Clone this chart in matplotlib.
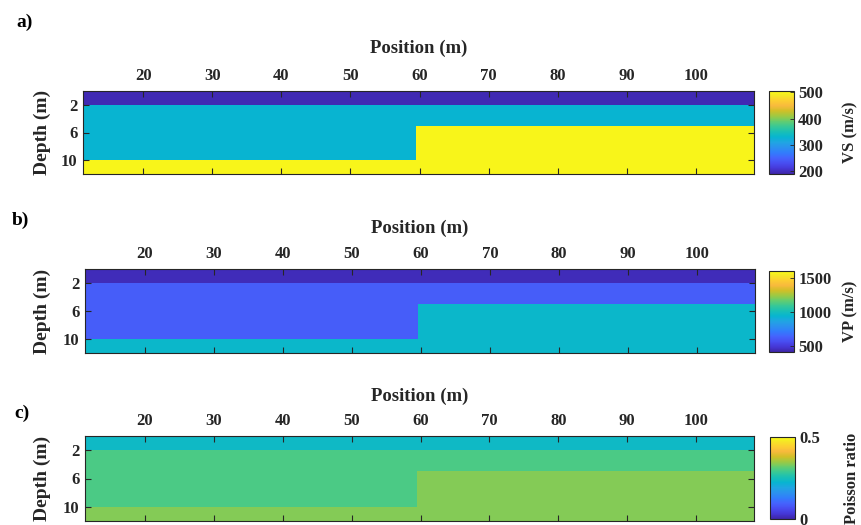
import numpy as np
import matplotlib
matplotlib.use('Agg')
import matplotlib.pyplot as plt
from matplotlib.colors import LinearSegmentedColormap
from matplotlib.ticker import FuncFormatter

# model geometry (m)
x_left = 11.3
x_split = 59.5
x_right = 108.4
depth_left = [0, 2, 10, 12]    # layer interfaces left of the step
depth_right = [0, 2, 5, 12]    # layer interfaces right of the step

# layer values (top, middle, bottom)
vs_layers = [195, 330, 500]
vp_layers = [440, 620, 960]
nu_layers = [0.235, 0.30, 0.335]

vs_clim = (190, 505)
vp_clim = (410, 1610)
nu_clim = (0, 0.5)

pos_ticks = [20, 30, 40, 50, 60, 70, 80, 90, 100]
depth_ticks = [2, 6, 10]
vs_cticks = [200, 300, 400, 500]
vp_cticks = [500, 1000, 1500]
nu_cticks = [0, 0.5]

# matlab parula, every 4th entry of the 64 colour table
parula_pts = [
    (0.2422, 0.1504, 0.6603), (0.2706, 0.2147, 0.8364), (0.2813, 0.3006, 0.9414),
    (0.2699, 0.3892, 0.9906), (0.1963, 0.4847, 0.9892), (0.1687, 0.5703, 0.9359),
    (0.1248, 0.6459, 0.8883), (0.0297, 0.7082, 0.8163), (0.0964, 0.7500, 0.7120),
    (0.2161, 0.7843, 0.5923), (0.3909, 0.8029, 0.4354), (0.6174, 0.7876, 0.2612),
    (0.8203, 0.7498, 0.1535), (0.9728, 0.7298, 0.2394), (0.9892, 0.8136, 0.1885),
    (0.9597, 0.9135, 0.1423), (0.9769, 0.9839, 0.0805)]
stops = [i * 4 / 63 for i in range(16)] + [1.0]
parula = LinearSegmentedColormap.from_list('parula', list(zip(stops, parula_pts)))

plt.rcParams['font.family'] = 'Liberation Serif'
plt.rcParams['font.weight'] = 'bold'
plt.rcParams['axes.labelweight'] = 'bold'
plt.rcParams['font.size'] = 12
INK = '#262626'

W, H = 862, 525
fig = plt.figure(figsize=(W / 100, H / 100), dpi=100)


def px(x0, y0, x1, y1):
    # pixel box -> figure fraction rect
    return [x0 / W, 1 - y1 / H, (x1 - x0) / W, (y1 - y0) / H]


def build_grid(layers):
    x_edges = np.array([x_left, x_split, x_right])
    y_edges = np.array(sorted(set(depth_left + depth_right)), dtype=float)
    mids = (y_edges[:-1] + y_edges[1:]) / 2
    C = np.zeros((len(mids), 2))
    for j, ifc in enumerate([depth_left, depth_right]):
        idx = np.searchsorted(ifc, mids) - 1
        C[:, j] = np.array(layers)[idx]
    return x_edges, y_edges, C


def panel(box, cbox, layers, clim, cticks, clabel, tag, tag_xy, title_y):
    ax = fig.add_axes(px(*box))
    xe, ye, C = build_grid(layers)
    m = ax.pcolormesh(xe, ye, C, cmap=parula, vmin=clim[0], vmax=clim[1], shading='flat')
    ax.set_xlim(x_left, x_right)
    ax.set_ylim(12, 0)
    ax.set_xticks(pos_ticks)
    ax.set_yticks(depth_ticks)
    ax.xaxis.tick_top()
    ax.tick_params(direction='in', length=4, width=0.8, color=INK, labelcolor=INK,
                   top=True, bottom=True, left=True, right=True,
                   labeltop=True, labelbottom=False, labelsize=12)
    ax.tick_params(axis='x', pad=5)
    ax.tick_params(axis='y', pad=4)
    for s in ax.spines.values():
        s.set_color(INK)
        s.set_linewidth(0.8)

    cx = (box[0] + box[2]) / 2
    fig.text(cx / W, 1 - title_y / H, 'Position (m)', ha='center', va='center',
             fontsize=13.5, color=INK)
    fig.text(42 / W, 1 - (box[1] + box[3]) / 2 / H, 'Depth (m)', ha='center', va='center',
             rotation=90, fontsize=14, color=INK)
    fig.text(tag_xy[0] / W, 1 - tag_xy[1] / H, tag, ha='left', va='center',
             fontsize=14, color='black')

    cax = fig.add_axes(px(*cbox))
    cb = fig.colorbar(m, cax=cax, ticks=cticks)
    cb.outline.set_edgecolor(INK)
    cb.outline.set_linewidth(0.8)
    cax.yaxis.set_major_formatter(FuncFormatter(lambda v, p: f'{v:g}'))
    cax.tick_params(direction='in', length=3, width=0.6, color=INK, labelcolor=INK,
                    labelsize=12, pad=3)
    cax.set_ylabel(clabel, fontsize=12, color=INK, rotation=90, fontweight='bold')
    cax.yaxis.set_label_coords(2.95, 0.5)
    return ax


panel((83, 91, 754, 174), (769, 91, 794, 174), vs_layers, vs_clim, vs_cticks,
      'VS (m/s)', 'a)', (16, 22), 48)
panel((85, 269, 755, 353), (769, 271, 794, 352), vp_layers, vp_clim, vp_cticks,
      'VP (m/s)', 'b)', (12, 220), 228)
panel((85, 436, 754, 521), (770, 437, 795, 519), nu_layers, nu_clim, nu_cticks,
      'Poisson ratio', 'c)', (14, 413), 396)

fig.savefig('out.png', dpi=100)
